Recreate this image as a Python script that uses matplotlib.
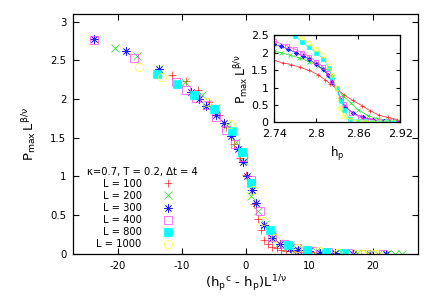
import matplotlib
matplotlib.use("Agg")
import matplotlib.pyplot as plt

plt.rcParams['font.family'] = ['DejaVu Sans']
plt.rcParams['axes.unicode_minus'] = False
plt.rcParams['mathtext.default'] = 'regular'

# ---------------- data: main (collapsed) plot ----------------
labels = ["L = 100", "L = 200", "L = 300", "L = 400", "L = 800", "L = 1000"]
colors = ["#ff2020", "#20e020", "#2020ff", "#ff40ff", "#00ffff", "#ffff20"]

x100 = [-11.5, -9.3, -7.5, -5.8, -4.2, -3.0, -1.8, -0.8, 0.1, 0.9, 1.3, 2.0, 2.5, 2.9,
        3.5, 4.2, 4.9, 5.6, 6.3, 7.1, 8.0, 9.0, 10.2, 11.5]
y100 = [2.31, 2.23, 2.12, 1.96, 1.80, 1.64, 1.42, 1.24, 1.02, 0.82, 0.64, 0.45, 0.30, 0.18,
        0.12, 0.09, 0.07, 0.05, 0.04, 0.03, 0.03, 0.02, 0.02, 0.01]

x200 = [-20.5, -17.0, -13.6, -9.5, -6.8, -4.6, -2.9, -1.5, -0.3, 0.9, 2.0, 3.0, 4.1, 5.3,
        6.6, 8.0, 9.5, 11.0, 12.6, 14.2, 15.8, 17.5, 19.2, 20.8, 22.2, 23.4, 24.6]
y200 = [2.66, 2.56, 2.39, 2.22, 2.05, 1.88, 1.66, 1.45, 1.20, 0.75, 0.55, 0.38, 0.24, 0.14,
        0.09, 0.06, 0.04, 0.03, 0.02, 0.01, 0.01, 0.01, 0.0, 0.0, 0.0, 0.0, 0.0]

x300 = [-23.8, -18.8, -13.6, -8.5, -7.3, -6.2, -4.7, -3.4, -2.2, -1.1, -0.4, 0.3, 1.0, 1.7,
        2.9, 4.1, 5.4, 7.0, 8.3, 9.9, 11.7, 14.0, 16.9, 19.5, 22.0]
y300 = [2.77, 2.62, 2.39, 2.09, 2.00, 1.91, 1.80, 1.69, 1.52, 1.36, 1.19, 1.01, 0.82, 0.65,
        0.37, 0.20, 0.12, 0.08, 0.05, 0.03, 0.01, 0.01, 0.0, 0.0, 0.0]

x400 = [-23.8, -17.5, -10.9, -9.3, -7.7, -6.1, -4.55, -3.0, -1.7, -0.4, 0.8, 2.3, 4.1, 6.0,
        8.0, 10.4, 13.0, 16.0, 18.8, 21.5]
y400 = [2.76, 2.53, 2.22, 2.12, 2.01, 1.92, 1.77, 1.60, 1.42, 1.25, 0.95, 0.55, 0.22, 0.12,
        0.07, 0.04, 0.02, 0.01, 0.0, 0.0]

x800 = [-13.8, -10.8, -8.0, -5.0, -2.1, -0.6, 0.8, 3.8, 6.7, 9.7, 12.6, 15.4]
y800 = [2.32, 2.19, 2.05, 1.87, 1.59, 1.32, 0.92, 0.31, 0.11, 0.05, 0.02, 0.01]

x1000 = [-16.7, -13.1, -6.0, -2.5, 1.2, 2.8, 4.7, 8.1, 11.5, 14.5, 17.5, 18.3, 19.0, 19.8, 20.5]
y1000 = [2.42, 2.29, 1.96, 1.68, 0.82, 0.42, 0.20, 0.08, 0.03, 0.01, 0.0, 0.0, 0.0, 0.0, 0.0]

# ---------------- data: inset (raw h_p) ----------------
hp100 = [2.740, 2.752, 2.764, 2.777, 2.790, 2.802, 2.812, 2.820, 2.829, 2.840, 2.852, 2.865,
         2.877, 2.890, 2.902, 2.915]
p100 = [1.78, 1.71, 1.66, 1.58, 1.49, 1.37, 1.23, 1.11, 0.96, 0.78, 0.63, 0.48, 0.33, 0.20,
        0.14, 0.08]

hp200 = [2.740, 2.750, 2.762, 2.776, 2.790, 2.803, 2.812, 2.820, 2.829, 2.838, 2.849, 2.860,
         2.874, 2.888, 2.902, 2.920]
p200 = [2.04, 2.00, 1.93, 1.85, 1.74, 1.62, 1.49, 1.32, 0.98, 0.76, 0.56, 0.36, 0.19, 0.10,
        0.06, 0.04]

hp300 = [2.740, 2.750, 2.760, 2.771, 2.781, 2.790, 2.800, 2.809, 2.817, 2.822, 2.829, 2.835,
         2.841, 2.853, 2.867, 2.881, 2.896, 2.910, 2.920]
p300 = [2.24, 2.18, 2.10, 2.00, 1.91, 1.81, 1.67, 1.52, 1.35, 1.16, 0.98, 0.64, 0.45, 0.26,
        0.14, 0.07, 0.04, 0.03, 0.02]

hp400 = [2.740, 2.758, 2.770, 2.780, 2.790, 2.800, 2.809, 2.816, 2.822, 2.829, 2.835, 2.840,
         2.850, 2.862, 2.876, 2.890, 2.904, 2.918]
p400 = [2.33, 2.20, 2.10, 2.00, 1.89, 1.74, 1.60, 1.42, 1.20, 0.98, 0.70, 0.52, 0.28, 0.14,
        0.08, 0.05, 0.03, 0.02]

hp800 = [2.770, 2.780, 2.790, 2.800, 2.810, 2.818, 2.823, 2.829, 2.835, 2.840, 2.848, 2.860,
         2.870, 2.880, 2.890, 2.900, 2.910]
p800 = [2.48, 2.30, 2.15, 2.00, 1.83, 1.55, 1.30, 0.98, 0.62, 0.35, 0.09, 0.05, 0.03, 0.02,
        0.01, 0.01, 0.01]

hp1000 = [2.770, 2.780, 2.790, 2.800, 2.810, 2.818, 2.823, 2.829, 2.834, 2.840, 2.850, 2.860,
          2.870, 2.880, 2.890, 2.900, 2.910]
p1000 = [2.60, 2.44, 2.27, 2.11, 1.93, 1.62, 1.35, 0.98, 0.40, 0.18, 0.07, 0.04, 0.02, 0.01,
         0.01, 0.0, 0.0]

main_x = [x100, x200, x300, x400, x800, x1000]
main_y = [y100, y200, y300, y400, y800, y1000]
ins_x = [hp100, hp200, hp300, hp400, hp800, hp1000]
ins_y = [p100, p200, p300, p400, p800, p1000]

markers = ['+', 'x', (8, 2, 0), 's', 's', 'o']
filled = [True, True, True, False, True, False]

fig = plt.figure(figsize=(4.36, 3.05), dpi=100)
ax = fig.add_axes([0.1681, 0.1682, 0.790, 0.786])

FS = 7.3
for xs, ys, c, m, f, lab in zip(main_x, main_y, colors, markers, filled, labels):
    ax.plot(xs, ys, linestyle='none', marker=m, markersize=6, markeredgewidth=0.5,
            color=c, markerfacecolor=(c if f else 'none'), markeredgecolor=c, label=lab,
            clip_on=True)

ax.set_xlim(-27, 27)
ax.set_ylim(0, 3.1)
ax.set_xticks([-20, -10, 0, 10, 20])
ax.set_yticks([0, 0.5, 1, 1.5, 2, 2.5, 3])
ax.set_yticklabels(['0', '0.5', '1', '1.5', '2', '2.5', '3'])
ax.tick_params(direction='in', length=4, width=0.8, top=True, right=True, labelsize=FS, pad=5)
for s in ax.spines.values():
    s.set_linewidth(0.9)
ax.set_xlabel(r'$(h_p{}^c$ - $h_p)L^{1/ν}$', fontsize=9.5, labelpad=2)
ax.set_ylabel(r'$P_{max}\,L^{β/ν}$', fontsize=9.5, labelpad=9)

leg = ax.legend(loc='lower left', bbox_to_anchor=(0.04, 0.018), frameon=False,
                markerfirst=False, fontsize=7.2, title='κ=0.7, T = 0.2, Δt = 4',
                title_fontsize=7.2, alignment='center', handlelength=4.2,
                handletextpad=0.5, labelspacing=0.21, borderpad=0.0, borderaxespad=0.0)

# inset
axi = fig.add_axes([0.629, 0.599, 0.2894, 0.2852])
for xs, ys, c, m, f in zip(ins_x, ins_y, colors, markers, filled):
    axi.plot(xs, ys, linestyle='-', linewidth=0.5, marker=m, markersize=3.5,
             markeredgewidth=0.5, color=c, markerfacecolor=(c if f else 'none'),
             markeredgecolor=c)
axi.set_xlim(2.74, 2.92)
axi.set_ylim(0, 2.5)
axi.set_xticks([2.74, 2.80, 2.86, 2.92])
axi.set_xticklabels(['2.74', '2.8', '2.86', '2.92'])
axi.set_yticks([0, 0.5, 1, 1.5, 2, 2.5])
axi.set_yticklabels(['0', '0.5', '1', '1.5', '2', '2.5'])
axi.tick_params(direction='in', length=3, width=0.8, top=True, right=True, labelsize=8)
axi.tick_params(axis='x', pad=5)
axi.tick_params(axis='y', pad=4)
for s in axi.spines.values():
    s.set_linewidth(0.9)
axi.set_xlabel(r'$h_p$', fontsize=8.5, labelpad=4)
axi.set_ylabel(r'$P_{max}\,L^{β/ν}$', fontsize=8.7, labelpad=1)

fig.savefig('out.png', dpi=100)
